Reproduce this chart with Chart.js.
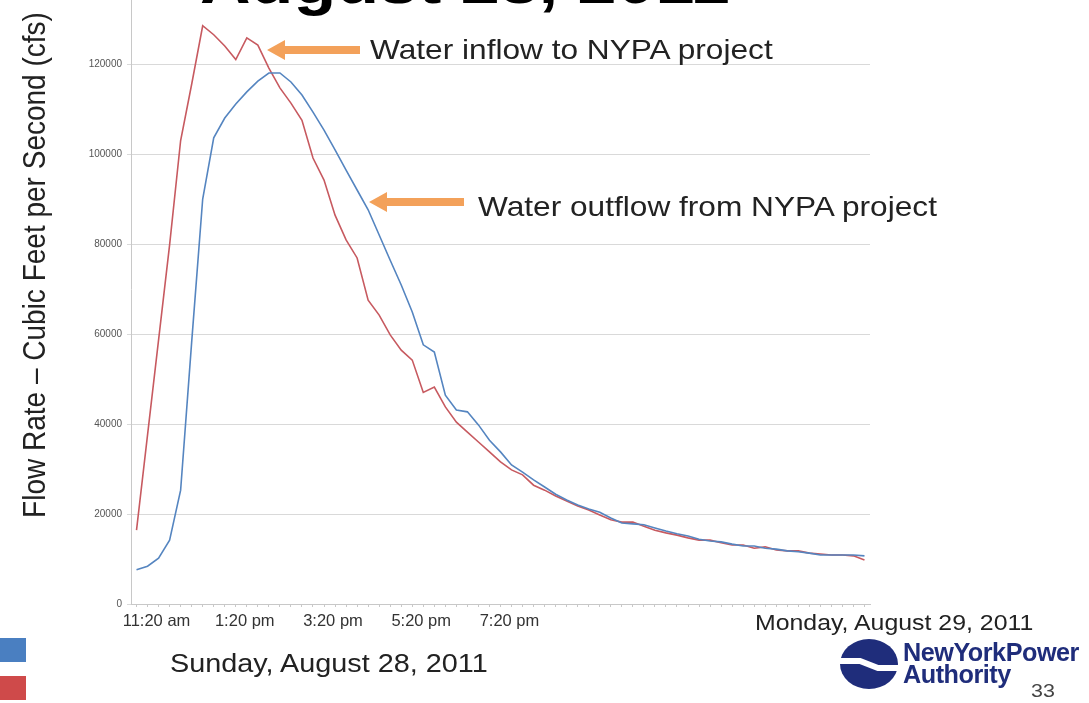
<!DOCTYPE html>
<html>
<head>
<meta charset="utf-8">
<script src="https://cdn.jsdelivr.net/npm/chart.js@4/dist/chart.umd.min.js"></script>
<style>
    html, body { margin: 0; padding: 0; background: #fff; overflow: hidden; }
    body { width: 1089px; height: 703px; position: relative; font-family: "Liberation Sans", Arial, sans-serif; }
    #flowChart { position: absolute; left: 0; top: -40px; }
    .txt { position: absolute; white-space: nowrap; color: #222; line-height: 1; transform-origin: 0 0; transform: scaleX(1.13); }
    .title { left: 200px; top: -49px; font-size: 62px; font-weight: bold; color: #000; }
    .note { font-size: 28px; }
    .ytitle { position: absolute; left: 35px; top: 265px; width: 560px; margin-left: -280px; margin-top: -14px;
              text-align: center; font-size: 28px; line-height: 28px; color: #222; white-space: nowrap;
              transform: rotate(-90deg) scaleY(1.13); }
    .logo { font-weight: bold; color: #1f2d7b; font-size: 26px; letter-spacing: -0.5px; transform: scaleX(0.97); }
    .swatch { position: absolute; left: 0; width: 26px; height: 24px; }
    svg { position: absolute; left: 0; top: 0; }
</style>
</head>
<body>
<canvas id="flowChart" width="1089" height="743"></canvas>

<div class="txt title">August 28, 2011</div>
<div class="ytitle">Flow Rate – Cubic Feet per Second (cfs)</div>

<svg width="1089" height="703">
    <!-- arrows -->
    <polygon points="267,50 285,40 285,46 360,46 360,54 285,54 285,60" fill="#f3a15a"/>
    <polygon points="369,202 387,192 387,198 464,198 464,206 387,206 387,212" fill="#f3a15a"/>
    <!-- logo mark -->
    <ellipse cx="869" cy="664" rx="29" ry="25" fill="#1f2d7b"/>
    <polyline points="838,661 860,661 878,668 900,668" fill="none" stroke="#fff" stroke-width="6"/>
</svg>

<div class="txt note" style="left:370px; top:36px;">Water inflow to NYPA project</div>
<div class="txt note" style="left:478px; top:193px;">Water outflow from NYPA project</div>
<div class="txt" style="left:170px; top:651px; font-size:25.5px;">Sunday, August 28, 2011</div>
<div class="txt" style="left:755px; top:612px; font-size:22px;">Monday, August 29, 2011</div>
<div class="txt logo" style="left:903px; top:639px;">NewYorkPower</div>
<div class="txt logo" style="left:903px; top:661px;">Authority</div>
<div class="txt" style="left:1031px; top:681px; font-size:19px; color:#444;">33</div>

<div class="swatch" style="top:638px; background:#4a7fc1;"></div>
<div class="swatch" style="top:676px; background:#cf4a4a;"></div>

<script>
// readings every 15 min from 11:20 am Sunday
const timeLabels = [
    '11:20 am', '11:35 am', '11:50 am', '12:05 pm', '12:20 pm', '12:35 pm', '12:50 pm', '1:05 pm',
    '1:20 pm', '1:35 pm', '1:50 pm', '2:05 pm', '2:20 pm', '2:35 pm', '2:50 pm', '3:05 pm',
    '3:20 pm', '3:35 pm', '3:50 pm', '4:05 pm', '4:20 pm', '4:35 pm', '4:50 pm', '5:05 pm',
    '5:20 pm', '5:35 pm', '5:50 pm', '6:05 pm', '6:20 pm', '6:35 pm', '6:50 pm', '7:05 pm',
    '7:20 pm', '7:35 pm', '7:50 pm', '8:05 pm', '8:20 pm', '8:35 pm', '8:50 pm', '9:05 pm',
    '9:20 pm', '9:35 pm', '9:50 pm', '10:05 pm', '10:20 pm', '10:35 pm', '10:50 pm', '11:05 pm',
    '11:20 pm', '11:35 pm', '11:50 pm', '12:05 am', '12:20 am', '12:35 am', '12:50 am', '1:05 am',
    '1:20 am', '1:35 am', '1:50 am', '2:05 am', '2:20 am', '2:35 am', '2:50 am', '3:05 am',
    '3:20 am', '3:35 am', '3:50 am'
];

const shownTicks = ['11:20 am', '1:20 pm', '3:20 pm', '5:20 pm', '7:20 pm'];

const inflow = [
    16400, 37600, 58700, 79800, 103000, 115500, 128500, 126500,
    124000, 121000, 125800, 124200, 119100, 114700, 111300, 107500,
    99100, 94200, 86400, 80900, 76900, 67500, 64200, 59800,
    56400, 54200, 47000, 48200, 43800, 40400, 38200, 36000,
    33800, 31600, 29800, 28700, 26400, 25300, 24000, 22900,
    21800, 20900, 19800, 18700, 18200, 18200, 17300, 16400,
    15800, 15300, 14700, 14200, 14200, 13600, 13100, 13100,
    12400, 12700, 12000, 11800, 11800, 11300, 11100, 10900,
    10900, 10700, 9800
];

const outflow = [
    7600, 8400, 10200, 14200, 25300, 58200, 90000, 103600,
    108000, 111100, 113800, 116200, 118000, 118000, 116000, 113100,
    109300, 105300, 100900, 96400, 92000, 87600, 82000, 76400,
    70900, 64900, 57600, 56000, 46400, 43100, 42700, 39800,
    36400, 33800, 30900, 29300, 27600, 26000, 24400, 23100,
    22000, 21100, 20400, 19100, 18000, 17800, 17600, 16900,
    16200, 15600, 15100, 14400, 14000, 13800, 13300, 12900,
    12900, 12400, 12200, 11800, 11600, 11300, 10900, 10900,
    10900, 10900, 10700
];

const yMax = 140000;
const yStep = 20000;

const ctx = document.getElementById('flowChart').getContext('2d');
new Chart(ctx, {
    type: 'line',
    data: {
        labels: timeLabels,
        datasets: [
            {
                label: 'Outflow',
                data: outflow,
                borderColor: '#5585c0',
                borderWidth: 1.6,
                pointRadius: 0,
                tension: 0,
            },
            {
                label: 'Inflow',
                data: inflow,
                borderColor: '#c75a60',
                borderWidth: 1.6,
                pointRadius: 0,
                tension: 0,
            }
        ]
    },
    options: {
        responsive: false,
        animation: false,
        layout: { padding: { top: 14, right: 219, left: 0, bottom: 0 } },
        plugins: {
            legend: { display: false },
            tooltip: { enabled: false }
        },
        scales: {
            x: {
                offset: true,
                border: { color: '#c8c8c8' },
                grid: { drawOnChartArea: false, drawTicks: true, tickLength: 3, color: '#c8c8c8' },
                ticks: {
                    autoSkip: false,
                    maxRotation: 0,
                    minRotation: 0,
                    labelOffset: 20,
                    padding: 5,
                    color: '#333',
                    font: { family: 'Liberation Sans', size: 16.5 },
                    callback: function (v) {
                        const l = this.getLabelForValue(v);
                        return shownTicks.includes(l) ? l : '';
                    }
                },
                afterFit: (scale) => { scale.height = 99; }
            },
            y: {
                min: 0,
                max: yMax,
                border: { color: '#c8c8c8' },
                grid: { color: '#d9d9d9', tickLength: 4 },
                ticks: {
                    stepSize: yStep,
                    padding: 5,
                    color: '#555',
                    font: { family: 'Liberation Sans', size: 10 },
                    callback: (v) => String(v)
                },
                afterFit: (scale) => { scale.width = 131; }
            }
        }
    }
});
</script>
</body>
</html>
